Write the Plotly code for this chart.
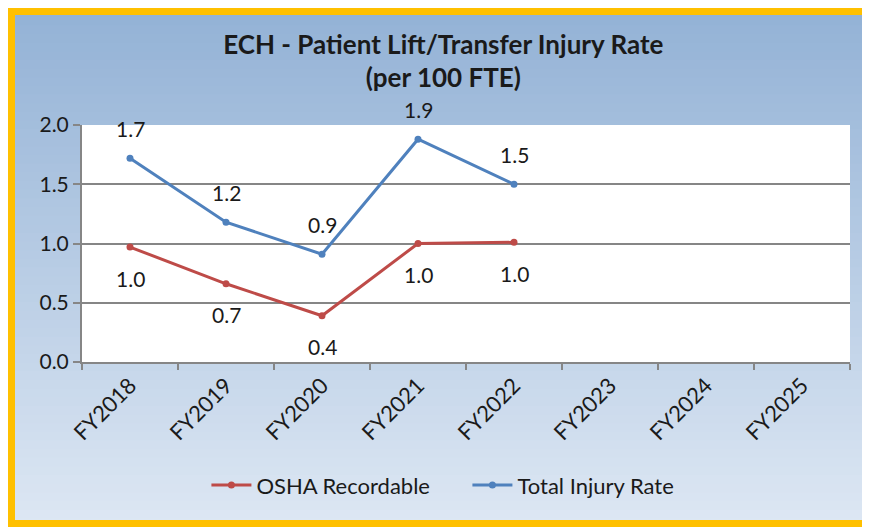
import plotly.graph_objects as go

categories = ["FY2018", "FY2019", "FY2020", "FY2021", "FY2022", "FY2023", "FY2024", "FY2025"]
osha_recordable = [0.97, 0.66, 0.39, 1.0, 1.01]
total_injury_rate = [1.72, 1.18, 0.91, 1.88, 1.5]

RED = "#BE4B48"
BLUE = "#4F81BD"
FONT = "Lato, Open Sans, sans-serif"
TXT = "#1a1a1a"

W, H = 862, 519  # page adds 8px body margin
L, R, T, B = 74, 20, 117, 165

fig = go.Figure()
fig.add_trace(go.Scatter(
    x=categories[:len(osha_recordable)], y=osha_recordable,
    mode="lines+markers", name="OSHA Recordable",
    line=dict(color=RED, width=3), marker=dict(size=7, color=RED),
))
fig.add_trace(go.Scatter(
    x=categories[:len(total_injury_rate)], y=total_injury_rate,
    mode="lines+markers", name="Total Injury Rate",
    line=dict(color=BLUE, width=3), marker=dict(size=7, color=BLUE),
))

# data labels: blue above, red below
for cat, v in zip(categories, total_injury_rate):
    fig.add_annotation(x=cat, y=v, text=f"{v:.1f}", showarrow=False, yshift=30,
                       font=dict(size=21, color=TXT, family=FONT))
for cat, v in zip(categories, osha_recordable):
    fig.add_annotation(x=cat, y=v, text=f"{v:.1f}", showarrow=False, yshift=-31,
                       font=dict(size=21, color=TXT, family=FONT))

# vertical gradient background inside the frame
pw, ph = W - L - R, H - T - B
top = (147, 178, 214)
bot = (221, 231, 243)
steps = 60
y_hi, y_lo = 1 + T / ph, -B / ph
for i in range(steps):
    t = i / (steps - 1)
    c = tuple(round(top[k] + (bot[k] - top[k]) * t) for k in range(3))
    y1 = y_hi - i * (y_hi - y_lo) / steps
    y0 = y_hi - (i + 1) * (y_hi - y_lo) / steps - 0.005
    fig.add_shape(type="rect", xref="paper", yref="paper", layer="below",
                  x0=-L / pw, x1=1 + R / pw, y0=y0, y1=y1,
                  line=dict(width=0), fillcolor="rgb(%d,%d,%d)" % c)
# white plot area
fig.add_shape(type="rect", xref="paper", yref="paper", layer="below",
              x0=0, x1=1, y0=0, y1=1, line=dict(width=0), fillcolor="white")

fig.update_layout(
    width=W, height=H,
    margin=dict(l=L, r=R, t=T, b=B),
    paper_bgcolor="#DCE6F2",
    plot_bgcolor="white",
    showlegend=True,
    title=dict(text="<b>ECH - Patient Lift/Transfer Injury Rate<br>(per 100 FTE)</b>",
               x=0.505, xanchor="center", y=0.912, yanchor="middle",
               font=dict(size=26, color=TXT, family=FONT)),
    legend=dict(orientation="h", x=0.162, xanchor="left", y=-0.52, yanchor="middle",
                font=dict(size=22, color=TXT, family=FONT), bgcolor="rgba(0,0,0,0)",
                itemwidth=40, entrywidth=206, entrywidthmode="pixels"),
    font=dict(family=FONT, color=TXT),
)
fig.update_xaxes(
    type="category", categoryorder="array", categoryarray=categories,
    range=[-0.5, len(categories) - 0.5],
    showline=True, linecolor="#868686", linewidth=2,
    ticks="outside", tickson="boundaries", ticklen=6, tickcolor="#868686", tickwidth=1.5,
    tickangle=-45, tickfont=dict(size=22, color=TXT, family=FONT),
    showgrid=False,
)
fig.update_yaxes(
    range=[0, 2.0], tickvals=[0, 0.5, 1.0, 1.5, 2.0], ticktext=["0.0", "0.5", "1.0", "1.5", "2.0"],
    showline=True, linecolor="#868686", linewidth=2,
    ticks="outside", ticklen=7, tickcolor="#868686", tickwidth=1.5,
    tickfont=dict(size=21, color=TXT, family=FONT),
    showgrid=True, gridcolor="#868686", gridwidth=1.5, zeroline=False,
)

# golden outer frame
fig.add_shape(type="rect", xref="paper", yref="paper", layer="above",
              x0=-(L - 3.5) / pw, x1=1 + (R - 3.5) / pw, y0=-(B - 3.5) / ph, y1=1 + (T - 3.5) / ph,
              line=dict(color="#FFC000", width=7), fillcolor="rgba(0,0,0,0)")

fig.write_html("out.html")
